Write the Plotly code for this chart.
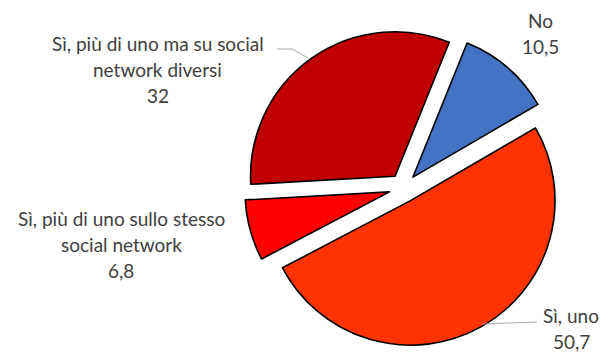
import plotly.graph_objects as go

# Survey answers, clockwise from the "No" slice
labels = [
    "No",
    "Sì, uno",
    "Sì, più di uno sullo stesso<br>social network",
    "Sì, più di uno ma su social<br>network diversi",
]
values = [10.5, 50.7, 6.8, 32]
colors = ["#4472C4", "#FF3300", "#FF0000", "#C00000"]

W, H = 603, 354


def px(x, y):
    return x / W, 1 - y / H


def fmt(v):
    s = f"{v:g}"
    return s.replace(".", ",")


fig = go.Figure(
    go.Pie(
        labels=labels,
        values=values,
        sort=False,
        direction="clockwise",
        rotation=22,
        pull=[0.1] * len(values),
        marker=dict(colors=colors, line=dict(color="#000000", width=1.6)),
        textinfo="none",
        hoverinfo="label+value",
        showlegend=False,
        domain=dict(x=[244.5 / W, 562.5 / W], y=[1 - 347 / H, 1 - 29 / H]),
    )
)

# Label blocks: centre x and y of the first line, in pixels
label_pos = [(540, 21), (571, 315), (121, 218), (158, 43)]
line_gap = 26
font = dict(family="Lato", size=19, color="#404040")

annotations = []
for lab, val, (cx, cy) in zip(labels, values, label_pos):
    lines = lab.split("<br>") + [fmt(val)]
    for i, ln in enumerate(lines):
        x, y = px(cx, cy + i * line_gap)
        annotations.append(
            dict(x=x, y=y, xref="paper", yref="paper", text=ln, showarrow=False,
                 xanchor="center", yanchor="middle", font=font, borderpad=0)
        )

# Leader lines
leaders = [
    [(277, 49), (292, 49), (308, 58)],
    [(482, 324), (537, 322)],
]
shapes = []
for pts in leaders:
    path = "M " + " L ".join(f"{px(x, y)[0]} {px(x, y)[1]}" for x, y in pts)
    shapes.append(dict(type="path", xref="paper", yref="paper", path=path,
                       line=dict(color="#A6A6A6", width=1)))

fig.update_layout(
    width=W,
    height=H,
    margin=dict(l=0, r=0, t=0, b=0),
    paper_bgcolor="white",
    plot_bgcolor="white",
    annotations=annotations,
    shapes=shapes,
)

fig.write_html("out.html")
